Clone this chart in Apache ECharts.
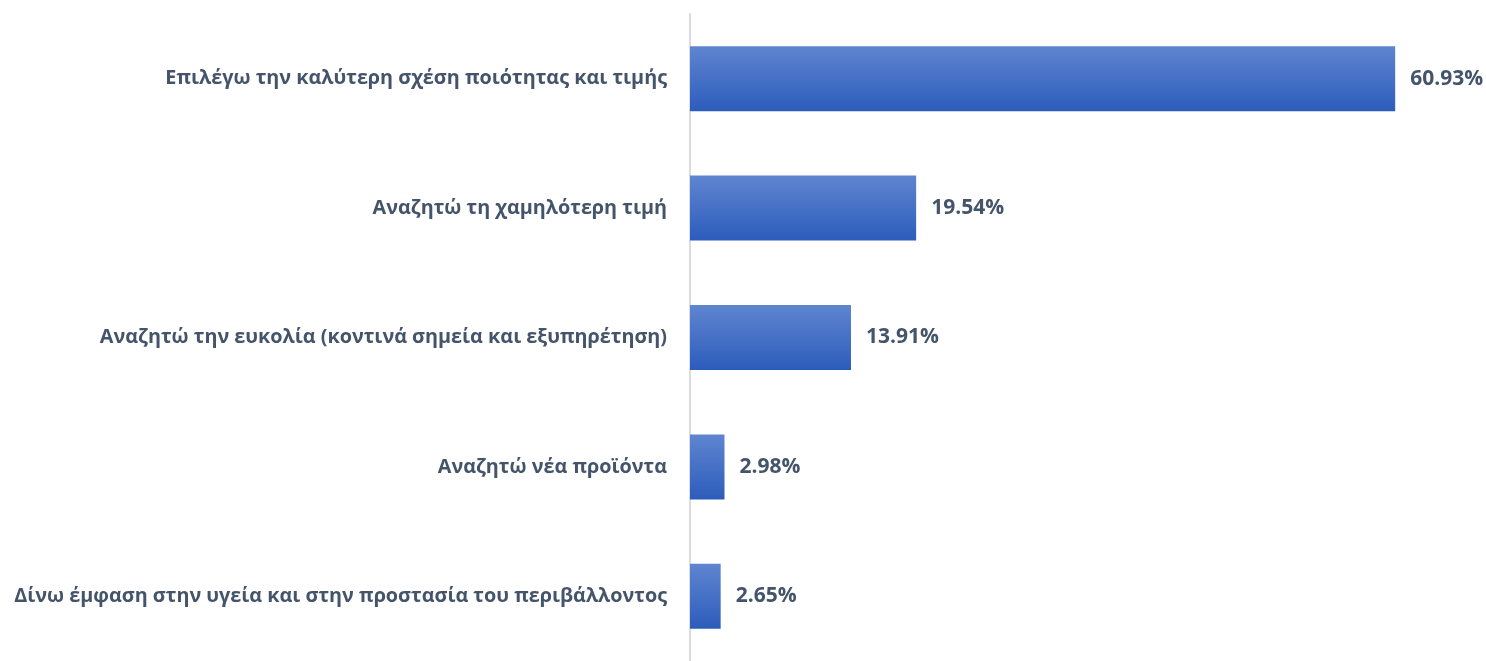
<!DOCTYPE html>
<html>
<head>
<meta charset="utf-8">
<script src="https://cdn.jsdelivr.net/npm/echarts@6/dist/echarts.min.js"></script>
<style>
  html, body { margin: 0; padding: 0; background: #ffffff; }
  #chart { width: 1486px; height: 661px; }
</style>
</head>
<body>
<div id="chart"></div>
<script>
// Answers, top to bottom
const categories = [
  'Επιλέγω την καλύτερη σχέση ποιότητας και τιμής',
  'Αναζητώ τη χαμηλότερη τιμή',
  'Αναζητώ την ευκολία (κοντινά σημεία και εξυπηρέτηση)',
  'Αναζητώ νέα προϊόντα',
  'Δίνω έμφαση στην υγεία και στην προστασία του περιβάλλοντος'
];
// Share of respondents, %
const values = [60.93, 19.54, 13.91, 2.98, 2.65];

const textColor = '#44546a';
const fontFamily = '"Open Sans", "Noto Sans", sans-serif';

const chart = echarts.init(document.getElementById('chart'), null, { renderer: 'canvas' });
chart.setOption({
  animation: false,
  grid: { left: 690, top: 14, height: 652, right: 9, containLabel: false },
  xAxis: {
    type: 'value', min: 0, max: 68,
    show: false
  },
  yAxis: {
    type: 'category',
    data: categories,
    inverse: true,
    axisLine: { show: true, lineStyle: { color: '#d9dde3', width: 2 } },
    axisTick: { show: false },
    axisLabel: {
      margin: 23,
      color: textColor,
      fontFamily: fontFamily,
      fontWeight: 'bold',
      fontSize: 19.8
    }
  },
  series: [{
    type: 'bar',
    data: values,
    barWidth: 65,
    itemStyle: {
      color: new echarts.graphic.LinearGradient(0, 0, 0, 1, [
        { offset: 0, color: '#5f85d0' },
        { offset: 1, color: '#2c5cbb' }
      ])
    },
    label: {
      show: true,
      position: 'right',
      distance: 15,
      formatter: p => p.value.toFixed(2) + '%',
      color: textColor,
      fontFamily: fontFamily,
      fontWeight: 'bold',
      fontSize: 21
    }
  }]
});
</script>
</body>
</html>
